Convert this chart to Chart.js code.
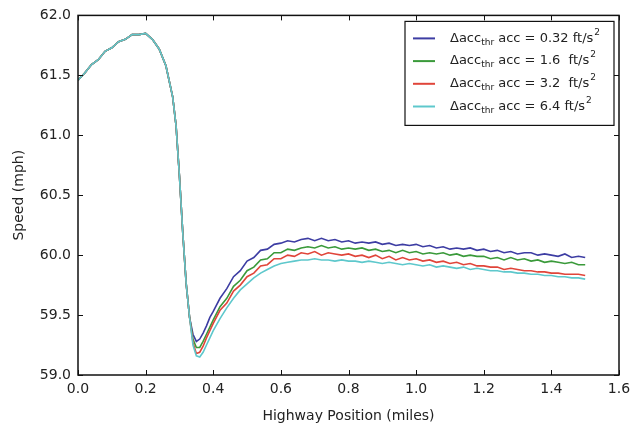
<!DOCTYPE html>
<html lang="en">
<head>
    <title>Speed vs Highway Position</title>
    <meta charset="utf-8">
    <script src="https://cdn.jsdelivr.net/npm/chart.js"></script>
    <style>
        html, body { margin: 0; padding: 0; background: #fff; }
    </style>
</head>
<body>
    <canvas id="speedChart" width="639" height="425"></canvas>

    <script>
        // highway position (miles), finer sampling through the dip
        var positions = [
            0.00, 0.02, 0.04, 0.06, 0.08, 0.10, 0.12, 0.14, 0.16, 0.18, 0.20, 0.22, 0.24, 0.26, 0.28,
            0.29, 0.30, 0.31, 0.32, 0.33,
            0.34, 0.35, 0.36, 0.37, 0.38, 0.39,
            0.40, 0.42, 0.44, 0.46, 0.48, 0.50, 0.52, 0.54, 0.56, 0.58,
            0.60, 0.62, 0.64, 0.66, 0.68, 0.70, 0.72, 0.74, 0.76, 0.78,
            0.80, 0.82, 0.84, 0.86, 0.88, 0.90, 0.92, 0.94, 0.96, 0.98,
            1.00, 1.02, 1.04, 1.06, 1.08, 1.10, 1.12, 1.14, 1.16, 1.18,
            1.20, 1.22, 1.24, 1.26, 1.28, 1.30, 1.32, 1.34, 1.36, 1.38,
            1.40, 1.42, 1.44, 1.46, 1.48, 1.50
        ];

        // all four runs coincide before the bottleneck (0.00 - 0.33)
        var approachSpeed = [
            61.46, 61.52, 61.59, 61.63, 61.70, 61.73, 61.78, 61.80, 61.84, 61.84, 61.85, 61.80, 61.72, 61.58, 61.32,
            61.08, 60.66, 60.18, 59.76, 59.48
        ];

        // 0.34 - 1.50
        var speed032 = [
            59.34, 59.28, 59.30, 59.35, 59.41, 59.48,
            59.53, 59.64, 59.72, 59.82, 59.87, 59.95, 59.98, 60.04, 60.05, 60.09,
            60.10, 60.12, 60.11, 60.13, 60.14, 60.12, 60.14, 60.12, 60.13, 60.11,
            60.12, 60.10, 60.11, 60.10, 60.11, 60.09, 60.10, 60.08, 60.09, 60.08,
            60.09, 60.07, 60.08, 60.06, 60.07, 60.05, 60.06, 60.05, 60.06, 60.04,
            60.05, 60.03, 60.04, 60.02, 60.03, 60.01, 60.02, 60.02, 60.00, 60.01,
            60.00, 59.99, 60.01, 59.98, 59.99, 59.98
        ];
        var speed16 = [
            59.30, 59.23, 59.23, 59.28, 59.34, 59.40,
            59.46, 59.57, 59.64, 59.74, 59.79, 59.87, 59.90, 59.96, 59.97, 60.02,
            60.02, 60.05, 60.04, 60.06, 60.07, 60.06, 60.08, 60.06, 60.07, 60.05,
            60.06, 60.05, 60.06, 60.04, 60.05, 60.03, 60.04, 60.02, 60.04, 60.02,
            60.03, 60.01, 60.02, 60.01, 60.02, 60.00, 60.01, 59.99, 60.00, 59.99,
            59.99, 59.97, 59.98, 59.96, 59.98, 59.96, 59.97, 59.95, 59.96, 59.94,
            59.95, 59.94, 59.93, 59.94, 59.92, 59.92
        ];
        var speed32 = [
            59.27, 59.18, 59.19, 59.24, 59.31, 59.37,
            59.43, 59.54, 59.60, 59.70, 59.75, 59.82, 59.85, 59.91, 59.92, 59.97,
            59.97, 60.00, 59.99, 60.02, 60.01, 60.03, 60.00, 60.02, 60.01, 60.00,
            60.01, 59.99, 60.00, 59.98, 60.00, 59.97, 59.99, 59.96, 59.98, 59.96,
            59.97, 59.95, 59.96, 59.94, 59.95, 59.93, 59.94, 59.92, 59.93, 59.91,
            59.91, 59.90, 59.90, 59.88, 59.89, 59.88, 59.87, 59.87, 59.86, 59.86,
            59.85, 59.85, 59.84, 59.84, 59.84, 59.83
        ];
        var speed64 = [
            59.25, 59.16, 59.15, 59.19, 59.25, 59.31,
            59.37, 59.47, 59.56, 59.64, 59.71, 59.76, 59.81, 59.85, 59.88, 59.91,
            59.93, 59.94, 59.95, 59.96, 59.96, 59.97, 59.96, 59.96, 59.95, 59.96,
            59.95, 59.95, 59.94, 59.95, 59.94, 59.93, 59.94, 59.93, 59.92, 59.93,
            59.92, 59.91, 59.92, 59.90, 59.91, 59.90, 59.89, 59.90, 59.88, 59.89,
            59.88, 59.87, 59.87, 59.86, 59.86, 59.85, 59.85, 59.84, 59.84, 59.83,
            59.83, 59.82, 59.82, 59.81, 59.81, 59.80
        ];

        var thresholds = ['0.32', '1.6 ', '3.2 ', '6.4'];
        var lineColors = ['#3d3da3', '#3a9a3a', '#e0453a', '#5ec8cc'];
        var xTicks = [0.0, 0.2, 0.4, 0.6, 0.8, 1.0, 1.2, 1.4, 1.6];
        var yTicks = [59.0, 59.5, 60.0, 60.5, 61.0, 61.5, 62.0];

        var runs = [speed032, speed16, speed32, speed64];

        function toPoints(tail) {
            var ys = approachSpeed.concat(tail);
            return positions.map(function (x, i) { return { x: x, y: ys[i] }; });
        }

        // matplotlib-style frame with inward ticks on all four sides, plus the legend
        var framePlugin = {
            id: 'frame',
            afterDatasetsDraw: function (chart) {
                var ctx = chart.ctx, a = chart.chartArea;
                var xs = chart.scales.x, ys = chart.scales.y;
                ctx.save();
                ctx.strokeStyle = '#111';
                ctx.lineWidth = 1;
                ctx.beginPath();
                xTicks.forEach(function (v) {
                    var px = Math.round(xs.getPixelForValue(v)) + 0.5;
                    ctx.moveTo(px, a.bottom); ctx.lineTo(px, a.bottom - 5);
                    ctx.moveTo(px, a.top); ctx.lineTo(px, a.top + 5);
                });
                yTicks.forEach(function (v) {
                    var py = Math.round(ys.getPixelForValue(v)) + 0.5;
                    ctx.moveTo(a.left, py); ctx.lineTo(a.left + 5, py);
                    ctx.moveTo(a.right, py); ctx.lineTo(a.right - 5, py);
                });
                ctx.stroke();
                ctx.lineWidth = 1.5;
                ctx.strokeRect(a.left, a.top, a.right - a.left, a.bottom - a.top);

                // legend box
                var bw = 209, bh = 104;
                var bx = a.right - 5 - bw, by = a.top + 6;
                ctx.fillStyle = '#fff';
                ctx.fillRect(bx, by, bw, bh);
                ctx.lineWidth = 1.2;
                ctx.strokeRect(bx, by, bw, bh);
                ctx.textBaseline = 'middle';
                ctx.textAlign = 'left';
                for (var i = 0; i < thresholds.length; i++) {
                    var ry = by + 17 + i * 22.7;
                    ctx.strokeStyle = lineColors[i];
                    ctx.lineWidth = 2;
                    ctx.beginPath();
                    ctx.moveTo(bx + 8, ry); ctx.lineTo(bx + 30, ry);
                    ctx.stroke();
                    ctx.fillStyle = '#222';
                    var tx = bx + 45;
                    ctx.font = '13px "DejaVu Sans"';
                    ctx.fillText('\u0394acc', tx, ry);
                    tx += ctx.measureText('\u0394acc').width;
                    ctx.font = '9px "DejaVu Sans"';
                    ctx.fillText('thr', tx, ry + 4);
                    tx += ctx.measureText('thr').width;
                    ctx.font = '13px "DejaVu Sans"';
                    var mid = ' acc = ' + thresholds[i] + ' ft/s';
                    ctx.fillText(mid, tx, ry);
                    tx += ctx.measureText(mid).width;
                    ctx.font = '9px "DejaVu Sans"';
                    ctx.fillText('2', tx + 1, ry - 6);
                }
                ctx.restore();
            }
        };

        var ctx1 = document.getElementById('speedChart').getContext('2d');
        var speedChart = new Chart(ctx1, {
            type: 'line',
            data: {
                datasets: runs.map(function (tail, i) {
                    return {
                        label: 'acc = ' + thresholds[i] + ' ft/s2',
                        data: toPoints(tail),
                        borderColor: lineColors[i],
                        borderWidth: 1.6,
                        pointRadius: 0,
                        tension: 0,
                        fill: false,
                        order: 3 - i
                    };
                })
            },
            options: {
                responsive: false,
                animation: false,
                devicePixelRatio: 1,
                layout: { padding: { left: 0, right: 20, top: 15, bottom: 0 } },
                plugins: {
                    legend: { display: false },
                    tooltip: { enabled: false }
                },
                scales: {
                    x: {
                        type: 'linear',
                        min: 0, max: 1.6,
                        afterBuildTicks: function (s) { s.ticks = xTicks.map(function (v) { return { value: v }; }); },
                        afterFit: function (s) { s.height = 50; },
                        grid: { display: false, drawTicks: false },
                        border: { display: false },
                        ticks: {
                            padding: 6,
                            color: '#222',
                            font: { family: 'DejaVu Sans', size: 14 },
                            callback: function (v) { return v.toFixed(1); }
                        },
                        title: {
                            display: true,
                            text: 'Highway Position (miles)',
                            color: '#222',
                            font: { family: 'DejaVu Sans', size: 14 },
                            padding: { top: 1, bottom: 0 }
                        }
                    },
                    y: {
                        min: 59, max: 62,
                        afterBuildTicks: function (s) { s.ticks = yTicks.map(function (v) { return { value: v }; }); },
                        afterFit: function (s) { s.width = 78; },
                        grid: { display: false, drawTicks: false },
                        border: { display: false },
                        ticks: {
                            padding: 7,
                            color: '#222',
                            font: { family: 'DejaVu Sans', size: 14 },
                            callback: function (v) { return v.toFixed(1); }
                        },
                        title: {
                            display: true,
                            text: 'Speed (mph)',
                            color: '#222',
                            font: { family: 'DejaVu Sans', size: 14 },
                            padding: { top: 11, bottom: 0 }
                        }
                    }
                }
            },
            plugins: [framePlugin]
        });
    </script>
</body>
</html>
